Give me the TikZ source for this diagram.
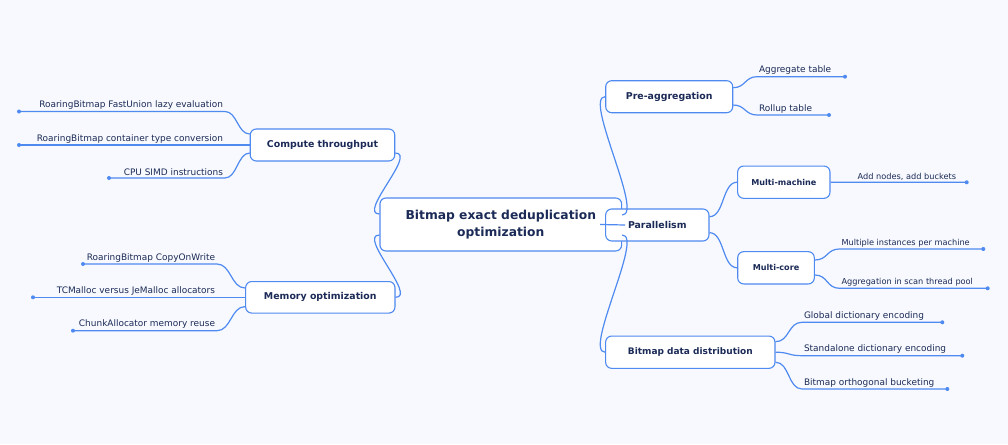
\documentclass[tikz,border=0pt]{standalone}
\usepackage{fontspec}
\setmainfont{DejaVu Sans}
\definecolor{bg}{HTML}{F7F9FE}
\definecolor{ln}{HTML}{4F8AF0}
\definecolor{tx}{HTML}{1B2A56}
\tikzset{
  box/.style={draw=ln, line width=1.1pt, fill=white, rounded corners=6pt, text=tx, font=\bfseries\fontsize{9.4}{11}\selectfont, inner sep=0pt, align=center},
  sbox/.style={box, font=\bfseries\fontsize{8.1}{10}\selectfont},
  leaf/.style={text=tx, font=\fontsize{8.95}{10}\selectfont, inner sep=1.8pt},
  sleaf/.style={leaf, font=\fontsize{8.2}{10}\selectfont},
  con/.style={draw=ln, line width=1.2pt},
  dot/.style={fill=ln, circle, inner sep=0pt, minimum size=4pt}
}
\begin{document}
\begin{tikzpicture}[x=1pt,y=-1pt]
\fill[bg] (0,0) rectangle (1008,444);
\useasboundingbox (0,0) rectangle (1008,444);
% root
\node[box, minimum width=241.7pt, minimum height=53pt, font=\bfseries\fontsize{12.3}{17}\selectfont] (root) at (500.8,224.5) {Bitmap exact deduplication\\optimization};
% level 1
\node[box, minimum width=144.5pt, minimum height=32pt] (ct) at (322.5,145) {Compute throughput};
\node[box, minimum width=149.3pt, minimum height=31.5pt] (mo) at (320.3,297.3) {Memory optimization};
\node[box, minimum width=127pt, minimum height=32pt] (pa) at (669.2,96.7) {Pre-aggregation};
\node[box, minimum width=103.3pt, minimum height=32pt] (par) at (657.3,225) {Parallelism};
\node[box, minimum width=169.3pt, minimum height=32.3pt, font=\bfseries\fontsize{9}{11}\selectfont] (bdd) at (690.3,352.2) {Bitmap data distribution};
\node[sbox, minimum width=92.3pt, minimum height=32.3pt] (mm) at (783.8,182.2) {Multi-machine};
\node[sbox, minimum width=76.6pt, minimum height=32.3pt] (mc) at (776,267.8) {Multi-core};

% root to level 1
\draw[con] ([yshift=-8pt]ct.east) .. controls +(22,0) and +(-22,0) .. ([yshift=10.5pt]root.west);
\draw[con] ([yshift=-10.5pt]root.west) .. controls +(-22,0) and +(22,0) .. (mo.east);
\draw[con] ([yshift=9.5pt]root.east) .. controls +(22,0) and +(-22,0) .. (pa.west);
\draw[con] ([yshift=-10.5pt]root.east) .. controls +(22,0) and +(-22,0) .. (bdd.west);
\draw[con] ([xshift=-22pt]root.east) -- ([xshift=20pt]par.west);

% compute throughput leaves
\node[leaf, anchor=south east] (c1) at (225,111.5) {RoaringBitmap FastUnion lazy evaluation};
\node[leaf, anchor=south east] (c2) at (225,145) {RoaringBitmap container type conversion};
\node[leaf, anchor=south east] (c3) at (225,178) {CPU SIMD instructions};
\coordinate (c1d) at (19,111.5);
\coordinate (c2d) at (19,145);
\coordinate (c3d) at (109,178);
\draw[con] ([yshift=11pt]ct.west) .. controls +(-12,0) and +(12,0) .. (c1.south east) -- (c1d);
\draw[con] (ct.west) -- (c2d);
\draw[con] ([yshift=-8pt]ct.west) .. controls +(-12,0) and +(12,0) .. (c3.south east) -- (c3d);
\node[dot] at (c1d) {}; \node[dot] at (c2d) {}; \node[dot] at (c3d) {};

% memory leaves
\node[leaf, anchor=south east] (m1) at (217,264) {RoaringBitmap CopyOnWrite};
\node[leaf, anchor=south east] (m2) at (217,297.3) {TCMalloc versus JeMalloc allocators};
\node[leaf, anchor=south east] (m3) at (217,330.7) {ChunkAllocator memory reuse};
\coordinate (m1d) at (83,264);
\coordinate (m2d) at (33,297.3);
\coordinate (m3d) at (73,330.7);
\draw[con] ([yshift=9.3pt]mo.west) .. controls +(-14,0) and +(14,0) .. (m1.south east) -- (m1d);
\draw[con] (mo.west) -- (m2d);
\draw[con] ([yshift=-9.3pt]mo.west) .. controls +(-14,0) and +(14,0) .. (m3.south east) -- (m3d);
\node[dot] at (m1d) {}; \node[dot] at (m2d) {}; \node[dot] at (m3d) {};

% pre-aggregation leaves
\node[leaf, anchor=south west] (p1) at (757,76.7) {Aggregate table};
\node[leaf, anchor=south west] (p2) at (757,115) {Rollup table};
\coordinate (p1d) at (845,76.7);
\coordinate (p2d) at (829,115);
\draw[con] ([yshift=9pt]pa.east) .. controls +(12,0) and +(-12,0) .. (p1.south west) -- (p1d);
\draw[con] ([yshift=-8.3pt]pa.east) .. controls +(12,0) and +(-12,0) .. (p2.south west) -- (p2d);
\node[dot] at (p1d) {}; \node[dot] at (p2d) {};

% parallelism children
\draw[con] ([yshift=8.3pt]par.east) .. controls +(15,0) and +(-15,0) .. (mm.west);
\draw[con] ([yshift=-7.7pt]par.east) .. controls +(15,0) and +(-15,0) .. (mc.west);

% multi-machine leaf
\node[sleaf, anchor=south east] (mm1) at (958,182.3) {Add nodes, add buckets};
\coordinate (mm1d) at (966.7,182.3);
\draw[con] (mm.east) -- (mm1d);
\node[dot] at (mm1d) {};

% multi-core leaves
\node[sleaf, anchor=south west] (mc1) at (839.5,249) {Multiple instances per machine};
\node[sleaf, anchor=south west] (mc2) at (839.5,288.3) {Aggregation in scan thread pool};
\coordinate (mc1d) at (983.3,249);
\coordinate (mc2d) at (987.7,288.3);
\draw[con] ([yshift=7.8pt]mc.east) .. controls +(13,0) and +(-13,0) .. (mc1.south west) -- (mc1d);
\draw[con] ([yshift=-7.2pt]mc.east) .. controls +(13,0) and +(-13,0) .. (mc2.south west) -- (mc2d);
\node[dot] at (mc1d) {}; \node[dot] at (mc2d) {};

% bitmap data distribution leaves
\node[leaf, anchor=south west] (b1) at (802,322.3) {Global dictionary encoding};
\node[leaf, anchor=south west] (b2) at (802,355.7) {Standalone dictionary encoding};
\node[leaf, anchor=south west] (b3) at (802,389) {Bitmap orthogonal bucketing};
\coordinate (b1d) at (942.3,322.3);
\coordinate (b2d) at (962.3,355.7);
\coordinate (b3d) at (947.3,389);
\draw[con] ([yshift=10.5pt]bdd.east) .. controls +(14,0) and +(-14,0) .. (b1.south west) -- (b1d);
\draw[con] (bdd.east) .. controls +(14,0) and +(-14,0) .. (b2.south west) -- (b2d);
\draw[con] ([yshift=-10pt]bdd.east) .. controls +(14,0) and +(-14,0) .. (b3.south west) -- (b3d);
\node[dot] at (b1d) {}; \node[dot] at (b2d) {}; \node[dot] at (b3d) {};
\end{tikzpicture}
\end{document}
